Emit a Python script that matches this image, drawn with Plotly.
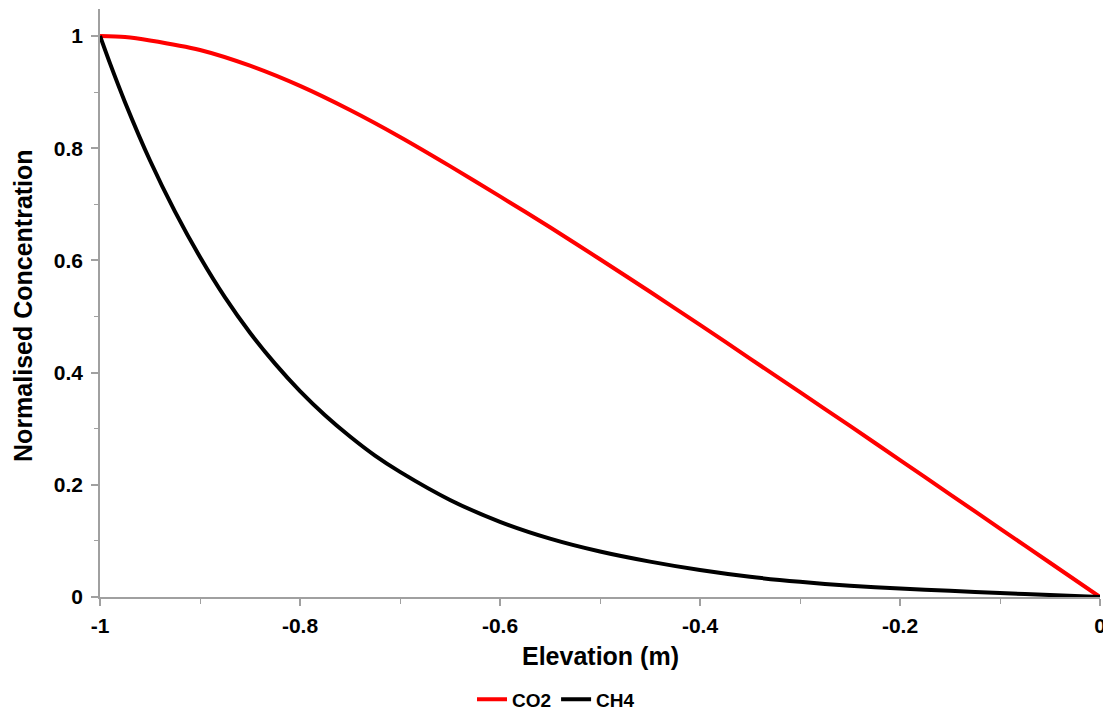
import plotly.graph_objects as go

# Elevation (m)
elev_co2 = [-1.0, -0.975, -0.95, -0.9, -0.85, -0.8, -0.75, -0.7, -0.65, -0.6, -0.55,
            -0.5, -0.45, -0.4, -0.35, -0.3, -0.25, -0.2, -0.15, -0.1, -0.05, 0.0]
co2 = [1.0, 0.998, 0.992, 0.975, 0.947, 0.911, 0.868, 0.820, 0.768, 0.714, 0.659,
       0.602, 0.544, 0.485, 0.425, 0.365, 0.305, 0.244, 0.183, 0.122, 0.061, 0.0]

elev_ch4 = [-1.0, -0.99, -0.975, -0.95, -0.925, -0.9, -0.875, -0.85, -0.825, -0.8,
            -0.775, -0.75, -0.725, -0.7, -0.65, -0.6, -0.55, -0.5, -0.45, -0.4,
            -0.35, -0.3, -0.25, -0.2, -0.15, -0.1, -0.05, 0.0]
ch4 = [1.0, 0.951, 0.882, 0.778, 0.687, 0.606, 0.534, 0.471, 0.416, 0.367,
       0.324, 0.286, 0.252, 0.223, 0.173, 0.134, 0.104, 0.081, 0.063, 0.048,
       0.036, 0.027, 0.020, 0.015, 0.011, 0.007, 0.0035, 0.0]

x_ticks = [-1, -0.8, -0.6, -0.4, -0.2, 0]
x_tick_labels = ["-1", "-0.8", "-0.6", "-0.4", "-0.2", "0"]
y_ticks = [0, 0.2, 0.4, 0.6, 0.8, 1]
y_tick_labels = ["0", "0.2", "0.4", "0.6", "0.8", "1"]

FONT = "Arial, 'Liberation Sans', sans-serif"
AXIS_COLOR = "#a0a0a0"

fig = go.Figure()
fig.add_trace(go.Scatter(x=elev_co2, y=co2, mode="lines", name="CO2",
                         line=dict(color="#ff0000", width=4, shape="spline", smoothing=0.8)))
fig.add_trace(go.Scatter(x=elev_ch4, y=ch4, mode="lines", name="CH4",
                         line=dict(color="#000000", width=4, shape="spline", smoothing=0.8)))

# The page body has an 8px margin, so the figure is sized/margined to compensate
fig.update_layout(
    width=1103, height=704,
    margin=dict(l=92, r=11, t=1, b=115),
    paper_bgcolor="white", plot_bgcolor="white",
    font=dict(family=FONT, color="black"),
    showlegend=True,
    legend=dict(orientation="h", xref="paper", x=0.456, xanchor="center",
                yref="container", y=0.018, yanchor="middle",
                font=dict(size=19, family=FONT, color="black", weight="bold"),
                itemwidth=30, tracegroupgap=0, bgcolor="rgba(0,0,0,0)"),
    xaxis=dict(range=[-1, 0], tickvals=x_ticks, ticktext=x_tick_labels, automargin=False,
               showgrid=False, zeroline=False, showline=True, linecolor=AXIS_COLOR,
               linewidth=1.5, ticks="outside", ticklen=7, tickcolor=AXIS_COLOR, tickwidth=1.5,
               tickfont=dict(size=21, family=FONT, color="black", weight="bold"),
               ticklabelstandoff=2,
               minor=dict(dtick=0.1, ticks="outside", ticklen=5, tickcolor=AXIS_COLOR, tickwidth=1, showgrid=False)),
    yaxis=dict(range=[0, 1.048], tickvals=y_ticks, ticktext=y_tick_labels, automargin=False,
               showgrid=False, zeroline=False, showline=True, linecolor=AXIS_COLOR,
               linewidth=1.5, ticks="outside", ticklen=7, tickcolor=AXIS_COLOR, tickwidth=1.5,
               tickfont=dict(size=21, family=FONT, color="black", weight="bold"),
               ticklabelstandoff=4,
               minor=dict(dtick=0.1, ticks="outside", ticklen=4, tickcolor=AXIS_COLOR, tickwidth=1, showgrid=False)),
    annotations=[
        dict(text="<b>Elevation (m)</b>", xref="paper", yref="paper", x=0.5, y=-0.1003,
             xanchor="center", yanchor="middle", showarrow=False,
             font=dict(size=25, family=FONT, color="black")),
        dict(text="<b>Normalised Concentration</b>", xref="paper", yref="paper", x=-0.077, y=0.495,
             xanchor="center", yanchor="middle", showarrow=False, textangle=-90,
             font=dict(size=25, family=FONT, color="black")),
    ],
)

fig.write_html("out.html")
